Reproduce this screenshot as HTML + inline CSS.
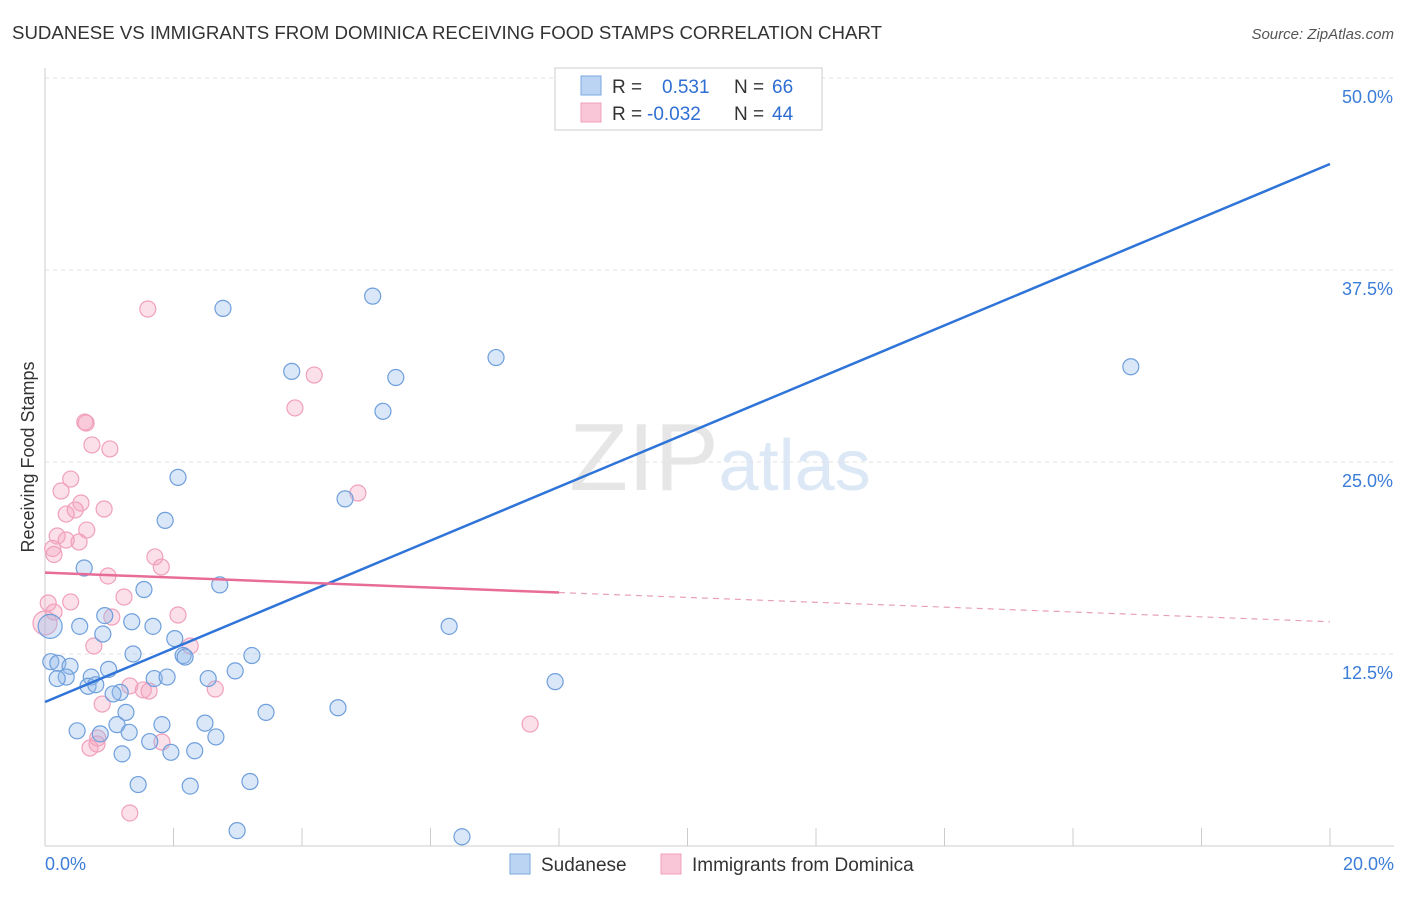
<!DOCTYPE html>
<html><head><meta charset="utf-8"><style>
body{margin:0;background:#fff;font-family:"Liberation Sans",sans-serif;}
svg text{font-family:"Liberation Sans",sans-serif;}
</style></head><body>
<svg id="chart" width="1406" height="892" xmlns="http://www.w3.org/2000/svg">
<text x="12" y="39" font-size="18" fill="#333" textLength="870" lengthAdjust="spacingAndGlyphs">SUDANESE VS IMMIGRANTS FROM DOMINICA RECEIVING FOOD STAMPS CORRELATION CHART</text>
<text x="1394" y="39" font-size="15" fill="#555" text-anchor="end" font-style="italic">Source: ZipAtlas.com</text>
<text x="720" y="490" font-size="96" text-anchor="middle" fill="#e6e6e6" font-family="Liberation Serif"><tspan>ZIP</tspan><tspan fill="#dce8f6" font-family="Liberation Sans" font-size="72">atlas</tspan></text>
<g id="grid"></g>
<g id="axes"></g>
<g id="marks"></g>
<text transform="translate(34,457) rotate(-90)" font-size="18" fill="#333" text-anchor="middle">Receiving Food Stamps</text>
<g>
<rect x="555" y="68" width="267" height="62" fill="#fff" stroke="#ccc"/>
<rect x="581" y="76" width="20" height="19" fill="#bcd4f3" stroke="#7aa7e0"/>
<rect x="581" y="103" width="20" height="19" fill="#f8c6d6" stroke="#f0a0bb"/>
<text x="612" y="93" font-size="19" fill="#333">R =</text>
<text x="662" y="93" font-size="19" fill="#2f6fd3">0.531</text>
<text x="734" y="93" font-size="19" fill="#333">N =</text>
<text x="772" y="93" font-size="19" fill="#2f6fd3">66</text>
<text x="612" y="120" font-size="19" fill="#333">R =</text>
<text x="647" y="120" font-size="19" fill="#2f6fd3">-0.032</text>
<text x="734" y="120" font-size="19" fill="#333">N =</text>
<text x="772" y="120" font-size="19" fill="#2f6fd3">44</text>
</g>
<g>
<rect x="510" y="854" width="20" height="20" fill="#bcd4f3" stroke="#7aa7e0"/>
<text x="541" y="871" font-size="19" fill="#333">Sudanese</text>
<rect x="661" y="854" width="20" height="20" fill="#f8c6d6" stroke="#f0a0bb"/>
<text x="692" y="871" font-size="19" fill="#333">Immigrants from Dominica</text>
</g>
</svg>
<script>
const yTicks=[12.5,25,37.5,50];
const yTickLabels=["12.5%","25.0%","37.5%","50.0%"];
const xTickVals=[0,2,4,6,8,10,12,14,16,18,20];
const blueX=[2.77,5.1,3.84,5.46,7.02,5.26,16.9,2.07,4.67,1.87,0.61,2.72,1.54,0.93,1.35,1.68,0.54,0.9,2.02,0.08,2.15,1.37,3.22,6.29,0.09,0.2,0.39,0.99,2.96,0.72,0.33,0.19,1.7,1.9,2.54,0.67,0.79,1.17,1.06,7.94,1.26,3.44,4.56,0.5,1.12,1.82,2.49,1.31,0.86,2.66,1.63,1.96,2.33,1.2,1.45,2.26,3.19,2.99,6.49,2.18];
const blueY=[35.0,35.8,30.9,30.5,31.8,28.3,31.2,24.0,22.6,21.2,18.1,17.0,16.7,15.0,14.6,14.3,14.3,13.8,13.5,14.3,12.4,12.5,12.4,14.3,12.0,11.9,11.7,11.5,11.4,11.0,11.0,10.9,10.9,11.0,10.9,10.4,10.5,10.0,9.9,10.7,8.7,8.7,9.0,7.5,7.9,7.9,8.0,7.4,7.3,7.1,6.8,6.1,6.2,6.0,4.0,3.9,4.2,1.0,0.6,12.3];
const pinkX=[1.6,4.19,3.89,0.62,0.64,0.73,1.01,0.4,0.25,0.56,0.33,0.47,0.92,0.65,0.19,0.53,0.33,1.71,0.12,0.14,1.81,0.98,1.23,0.4,0.05,2.07,1.04,0.0,2.26,0.76,4.87,1.32,1.53,2.65,1.62,0.89,0.82,0.81,0.7,1.82,7.55,1.32,0.14];
const pinkY=[34.96,30.66,28.52,27.6,27.54,26.11,25.85,23.89,23.11,22.33,21.61,21.88,21.94,20.57,20.18,19.79,19.92,18.82,19.37,18.98,18.16,17.58,16.21,15.89,15.82,15.04,14.91,14.52,13.02,13.02,22.98,10.42,10.16,10.22,10.09,9.24,7.03,6.64,6.38,6.77,7.94,2.15,15.23];
const blueLine=[9.375,44.4];
const pinkLine=[17.8,16.5,14.6];
const X=v=>45+v/20*1285, Y=v=>846-v/12.5*192;
const NS="http://www.w3.org/2000/svg";
function mk(tag,attrs,parent){const e=document.createElementNS(NS,tag);for(const k in attrs)e.setAttribute(k,attrs[k]);document.getElementById(parent).appendChild(e);return e;}
yTicks.forEach((t,i)=>{
 const g=mk('line',{x1:45,x2:1394,y1:Y(t),y2:Y(t),stroke:'#e2e2e2','stroke-dasharray':'4,4'},'grid');
 
 
 const tx=mk('text',{x:1393,y:Y(t)+25,'font-size':18,fill:'#3b7dd8','text-anchor':'end'},'axes');
 tx.textContent=yTickLabels[i];
 
 
});
let ax=mk('line',{x1:45,x2:45,y1:68,y2:846,stroke:'#ccc'},'axes');


ax=mk('line',{x1:45,x2:1394,y1:846,y2:846,stroke:'#ccc'},'axes');


xTickVals.forEach(v=>{const t=mk('line',{x1:X(v),x2:X(v),y1:828,y2:846,stroke:'#ccc'},'axes');
 
 });
let l=mk('text',{x:45,y:870,'font-size':18,fill:'#3b7dd8'},'axes');l.textContent='0.0%';


l=mk('text',{x:1394,y:870,'font-size':18,fill:'#3b7dd8','text-anchor':'end'},'axes');l.textContent='20.0%';


pinkX.forEach((x,i)=>{const c=mk('circle',{cx:X(x),cy:Y(pinkY[i]),r:i==27?12:8,fill:'rgba(244,164,192,0.35)',stroke:'#f0a0bb','stroke-width':1.2},'marks');
 
 });
blueX.forEach((x,i)=>{const c=mk('circle',{cx:X(x),cy:Y(blueY[i]),r:i==19?12:8,fill:'rgba(147,187,236,0.35)',stroke:'#6f9fdc','stroke-width':1.2},'marks');
 
 });
let ln=mk('line',{x1:X(0),y1:Y(blueLine[0]),x2:X(20),y2:Y(blueLine[1]),stroke:'#2f74d8','stroke-width':2.5},'marks');


ln=mk('line',{x1:X(0),y1:Y(pinkLine[0]),x2:X(8),y2:Y(pinkLine[1]),stroke:'#e86c98','stroke-width':2.5},'marks');


ln=mk('line',{x1:X(8),y1:Y(pinkLine[1]),x2:X(20),y2:Y(pinkLine[2]),stroke:'#e8a0b8','stroke-width':1.2,'stroke-dasharray':'6,5'},'marks');


</script>
</body></html>
